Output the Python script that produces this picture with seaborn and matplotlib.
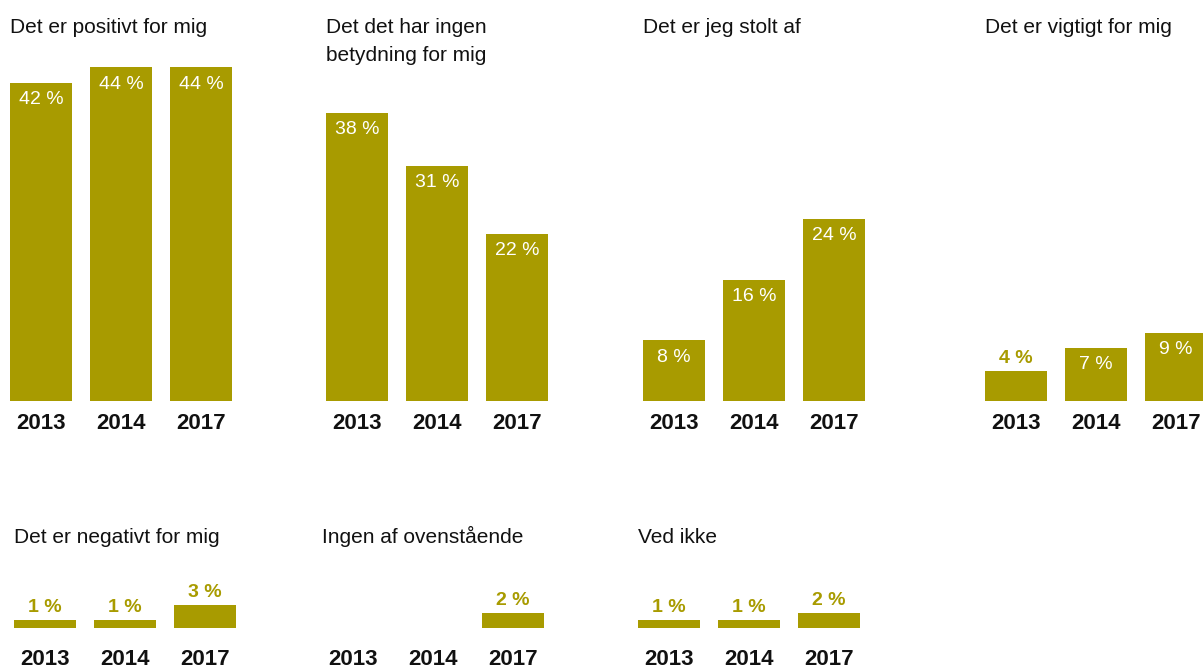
import matplotlib
matplotlib.use('Agg')
import matplotlib.pyplot as plt
import seaborn as sns
import pandas as pd

sns.set_style('white')
plt.rcParams['font.family'] = ['Liberation Sans', 'DejaVu Sans']

W, H = 1203, 668
OLIVE = '#a89b00'
PX_PER_PCT = 7.58

years = ['2013', '2014', '2017']
titles = [
    'Det er positivt for mig',
    'Det det har ingen\nbetydning for mig',
    'Det er jeg stolt af',
    'Det er vigtigt for mig',
    'Det er negativt for mig',
    'Ingen af ovenstående',
    'Ved ikke',
]
positivt = [42, 44, 44]
ingen_betydning = [38, 31, 22]
stolt = [8, 16, 24]
vigtigt = [4, 7, 9]
negativt = [1, 1, 3]
ingen_af = [None, None, 2]
ved_ikke = [1, 1, 2]
series = [positivt, ingen_betydning, stolt, vigtigt, negativt, ingen_af, ved_ikke]

# left edge of first bar (px), baseline (px from top), axes height (px), label pad (pt), title baseline
panels = [
    (10, 401, 360, 8.5, 33),
    (326, 401, 360, 8.5, 33),
    (643, 401, 360, 8.5, 33),
    (985, 401, 360, 8.5, 33),
    (14, 628, 80, 15, 543),
    (322, 628, 80, 15, 543),
    (638, 628, 80, 15, 543),
]

fig = plt.figure(figsize=(W / 100, H / 100), dpi=100)

for title, vals, (bx, base, ah, pad, ty) in zip(titles, series, panels):
    ax = fig.add_axes([(bx - 9) / W, (H - base) / H, 240 / W, ah / H])
    df = pd.DataFrame({'year': years, 'value': vals}).dropna()
    sns.barplot(data=df, x='year', y='value', order=years, color=OLIVE,
                saturation=1, width=0.775, linewidth=0, ax=ax)
    ax.set_xlim(-0.5, 2.5)
    ax.set_ylim(0, ah / PX_PER_PCT)
    ax.set_xlabel('')
    ax.set_ylabel('')
    ax.set_yticks([])
    sns.despine(ax=ax, left=True, bottom=True)
    ax.tick_params(axis='x', length=0, pad=pad, labelsize=16)
    for lab in ax.get_xticklabels():
        lab.set_fontweight('bold')
        lab.set_color('#111111')
    for i, v in enumerate(vals):
        if v is None:
            continue
        if v >= 5:
            ax.annotate(f'{v:g} %', (i, v), xytext=(0, -12), textcoords='offset points',
                        ha='center', va='center', color='white', fontsize=14)
        else:
            ax.annotate(f'{v:g} %', (i, v), xytext=(0, 9), textcoords='offset points',
                        ha='center', va='center', color=OLIVE, fontsize=14,
                        fontweight='bold')
    lines = title.split('\n')
    for k, line in enumerate(lines):
        fig.text(bx / W, 1 - (ty + 28 * k) / H, line, ha='left', va='baseline',
                 fontsize=15, color='#111111')

fig.savefig('out.png', dpi=100)
